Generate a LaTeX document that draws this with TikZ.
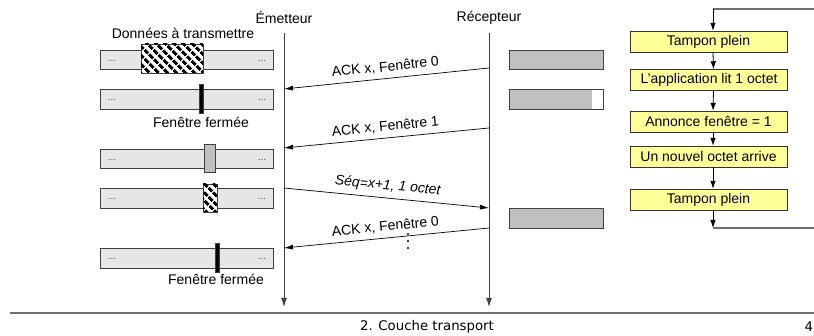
\documentclass[tikz,border=0pt]{standalone}
\usepackage{fontspec}
\setmainfont{Liberation Sans}
\newfontfamily\footfont{DejaVu Sans}
\usetikzlibrary{positioning, calc, arrows.meta, patterns.meta}
\definecolor{bufgray}{HTML}{E6E6E6}
\definecolor{fullgray}{HTML}{C0C0C0}
\definecolor{flowyellow}{HTML}{FFFF99}
\definecolor{rulegray}{HTML}{707070}
\tikzset{buf/.style={draw=black!75, fill=bufgray, minimum width=173pt, minimum height=19.5pt, inner sep=0pt}}
\tikzset{rbuf/.style={draw=black!75, fill=fullgray, minimum width=94pt, minimum height=19.5pt, inner sep=0pt}}
\tikzset{hatch/.style={draw=black!75, fill=white, postaction={pattern={Lines[angle=-45,distance=6.5pt,line width=3.4pt]}}, inner sep=0pt}}
\tikzset{winbar/.style={draw=black!75, fill=#1, minimum width=4pt, minimum height=29pt, inner sep=0pt}}
\tikzset{dots/.style={font=\fontsize{10}{12}\selectfont, text=black!70, inner sep=0pt}}
\tikzset{fbox/.style={draw=black!80, fill=flowyellow, minimum width=157pt, minimum height=21pt, inner sep=0pt}}
\tikzset{life/.style={draw=black!75, line width=0.9pt, -{Latex[length=9pt,width=6pt]}}}
\tikzset{arr/.style={draw, line width=0.7pt, -{Latex[length=9pt,width=5pt]}}}
\tikzset{msg/.style={sloped, above, inner sep=5pt}}
\tikzset{flow/.style={draw, line width=0.8pt, -{Latex[length=8pt,width=5.5pt]}}}
\tikzset{loopline/.style={draw=rulegray, line width=1.3pt}}

\begin{document}
\begin{tikzpicture}[x=1pt, y=-1pt, font=\fontsize{14}{16}\selectfont]
		\clip (0,0) rectangle (814,336);
		% emetteur side
		\node (emet) at (284,18) {Émetteur};
		\node (recep) at (489,18) {Récepteur};
		\coordinate (emetend) at (284,307);
		\coordinate (recepend) at (489,307);
		\draw[life] (emet.south) ++(0,5) -- (emetend);
		\draw[life] (recep.south) ++(0,5) -- (recepend);

		\node (datalbl) at (183,33) {Données à transmettre};
		\foreach \n/\y in {1/59.5, 2/99, 3/158.5, 4/198, 5/258} {
			\node[buf] (sbuf\n) at (186.5,\y) {};
			\node[dots] at (112,\y+1) {...};
			\node[dots] at (262,\y+1) {...};
		}
		\node[hatch, minimum width=62pt, minimum height=29pt] (sdata) at (172,58.5) {};
		\node[winbar=black] (sclosed1) at (201,98.5) {};
		\node (closedlbl1) at (201,122) {Fenêtre fermée};
		\node[winbar=fullgray, minimum width=11pt, minimum height=28pt] (sopen) at (209.5,158) {};
		\node[hatch, minimum width=14pt, minimum height=28pt] (ssent) at (210,198) {};
		\node[winbar=black] (sclosed2) at (217.5,257.5) {};
		\node (closedlbl2) at (216,279) {Fenêtre fermée};

		% recepteur buffers
		\node[rbuf] (rbuf1) at (556,59.5) {};
		\node[rbuf, fill=white, path picture={\fill[fullgray] (path picture bounding box.north west) rectangle ([xshift=-11pt]path picture bounding box.south east);}] (rbuf2) at (556,99) {};
		\node[rbuf] (rbuf3) at (556,218) {};

		% segments
		\coordinate (ack1s) at (489,68);  \coordinate (ack1e) at (284,89);
		\coordinate (ack2s) at (489,128); \coordinate (ack2e) at (284,148);
		\coordinate (seqs) at (284,188);  \coordinate (seqe) at (489,208);
		\coordinate (ack3s) at (489,228); \coordinate (ack3e) at (284,248);
		\draw[arr] (ack1s) -- node[msg] {ACK x, Fenêtre 0} (ack1e);
		\draw[arr] (ack2s) -- node[msg] {ACK x, Fenêtre 1} (ack2e);
		\draw[arr] (seqs) -- node[msg] {\itshape Séq=x+1, 1 octet} (seqe);
		\draw[arr] (ack3s) -- node[msg] {ACK x, Fenêtre 0} (ack3e);
		\foreach \y in {234,241,248}
			\fill (408,\y) circle (1.2pt);

		% flowchart
		\node[fbox] (fb1) at (708.5,41.5) {Tampon plein};
		\node[fbox] (fb2) at (709,80) {L'application lit 1 octet};
		\node[fbox] (fb3) at (708.5,121.5) {Annonce fenêtre = 1};
		\node[fbox] (fb4) at (708.5,156.5) {Un nouvel octet arrive};
		\node[fbox] (fb5) at (708.5,199.5) {Tampon plein};
		\foreach \a/\b in {fb1/fb2, fb2/fb3, fb3/fb4, fb4/fb5}
			\draw[flow] ([xshift=4.5pt]\a.south) -- ([xshift=4.5pt]\b.north);
		\coordinate (loopa) at (713,228);
		\coordinate (loopb) at (820,228);
		\coordinate (loopc) at (820,9);
		\coordinate (loopd) at (713,9);
		\draw[flow] ([xshift=4.5pt]fb5.south) -- (loopa);
		\draw[loopline] (loopa) -- (loopb) -- (loopc) -- (loopd);
		\draw[flow] (loopd) -- ([xshift=4.5pt]fb1.north);

		% footer
		\coordinate (footl) at (10,313);
		\coordinate (footr) at (814,313);
		\draw[draw=rulegray, line width=1.5pt] (footl) -- (footr);
		\node[font=\footfont\fontsize{13.3}{15}\selectfont] (foottxt) at (427,327) {2. Couche transport};
		\node[font=\footfont\fontsize{13.3}{15}\selectfont, anchor=west, inner sep=0pt] (pagenum) at (804.5,327) {4};
	\end{tikzpicture}
\end{document}
